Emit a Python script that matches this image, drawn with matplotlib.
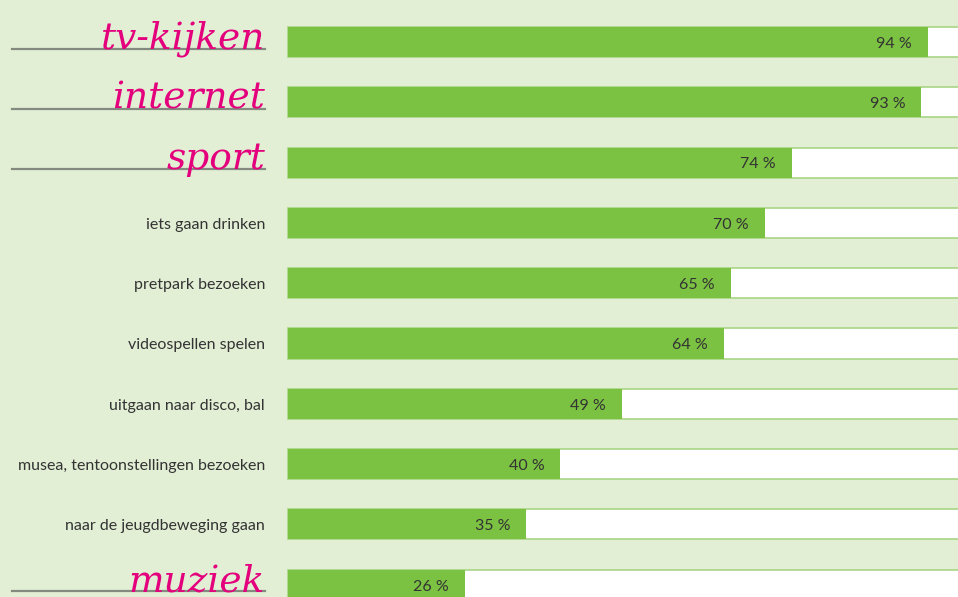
import matplotlib
matplotlib.use("Agg")
import matplotlib.pyplot as plt
from matplotlib.transforms import blended_transform_factory

# Activities and share of respondents (%)
activities = ["tv-kijken", "internet", "sport", "iets gaan drinken", "pretpark bezoeken",
              "videospellen spelen", "uitgaan naar disco, bal",
              "musea, tentoonstellingen bezoeken", "naar de jeugdbeweging gaan", "muziek"]
percentages = [94, 93, 74, 70, 65, 64, 49, 40, 35, 26]
# rows written in the pink handwriting style
highlighted = ["tv-kijken", "internet", "sport", "muziek"]

BG = "#e2efd5"
GREEN = "#7bc142"
EDGE = "#a9d585"
PINK = "#e4007c"
TEXT = "#333333"

W, H = 958, 597
fig = plt.figure(figsize=(W / 100, H / 100), dpi=100)
fig.patch.set_facecolor(BG)

ax = fig.add_axes([0, 0, 1, 1])
ax.set_facecolor(BG)
px_per_pct = 6.81
ax.set_xlim(-288 / px_per_pct, (W - 288) / px_per_pct)
row_px = 60.3
ax.set_ylim((H - 42) / row_px, -42 / row_px)
ax.axis("off")

rows = list(range(len(activities)))
ax.barh(rows, [100] * len(rows), left=0, height=0.5, color="white",
        edgecolor=EDGE, linewidth=1.2, zorder=1)
ax.barh(rows, percentages, left=0, height=0.5, color=GREEN, zorder=2)

trans = blended_transform_factory(fig.transFigure, ax.transData)
label_x = 265 / W
for i, (name, pct) in enumerate(zip(activities, percentages)):
    ax.text(pct - 16 / px_per_pct, i + 0.03, f"{pct} %", ha="right", va="center",
            fontsize=11.5, color=TEXT, family="Lato", zorder=3)
    if name in highlighted:
        base = i + 0.11
        ax.plot([12 / W, label_x], [base, base], transform=trans,
                color="#858a80", lw=1.6, zorder=2, clip_on=False)
        ax.text(label_x, base, name, transform=trans, ha="right", va="baseline",
                fontsize=27, color=PINK, family="DejaVu Serif", style="italic",
                zorder=3)
    else:
        ax.text(label_x, i + 0.03, name, transform=trans, ha="right", va="center",
                fontsize=11.5, color=TEXT, family="Lato", zorder=3)

fig.savefig("out.png", dpi=100, facecolor=BG)
